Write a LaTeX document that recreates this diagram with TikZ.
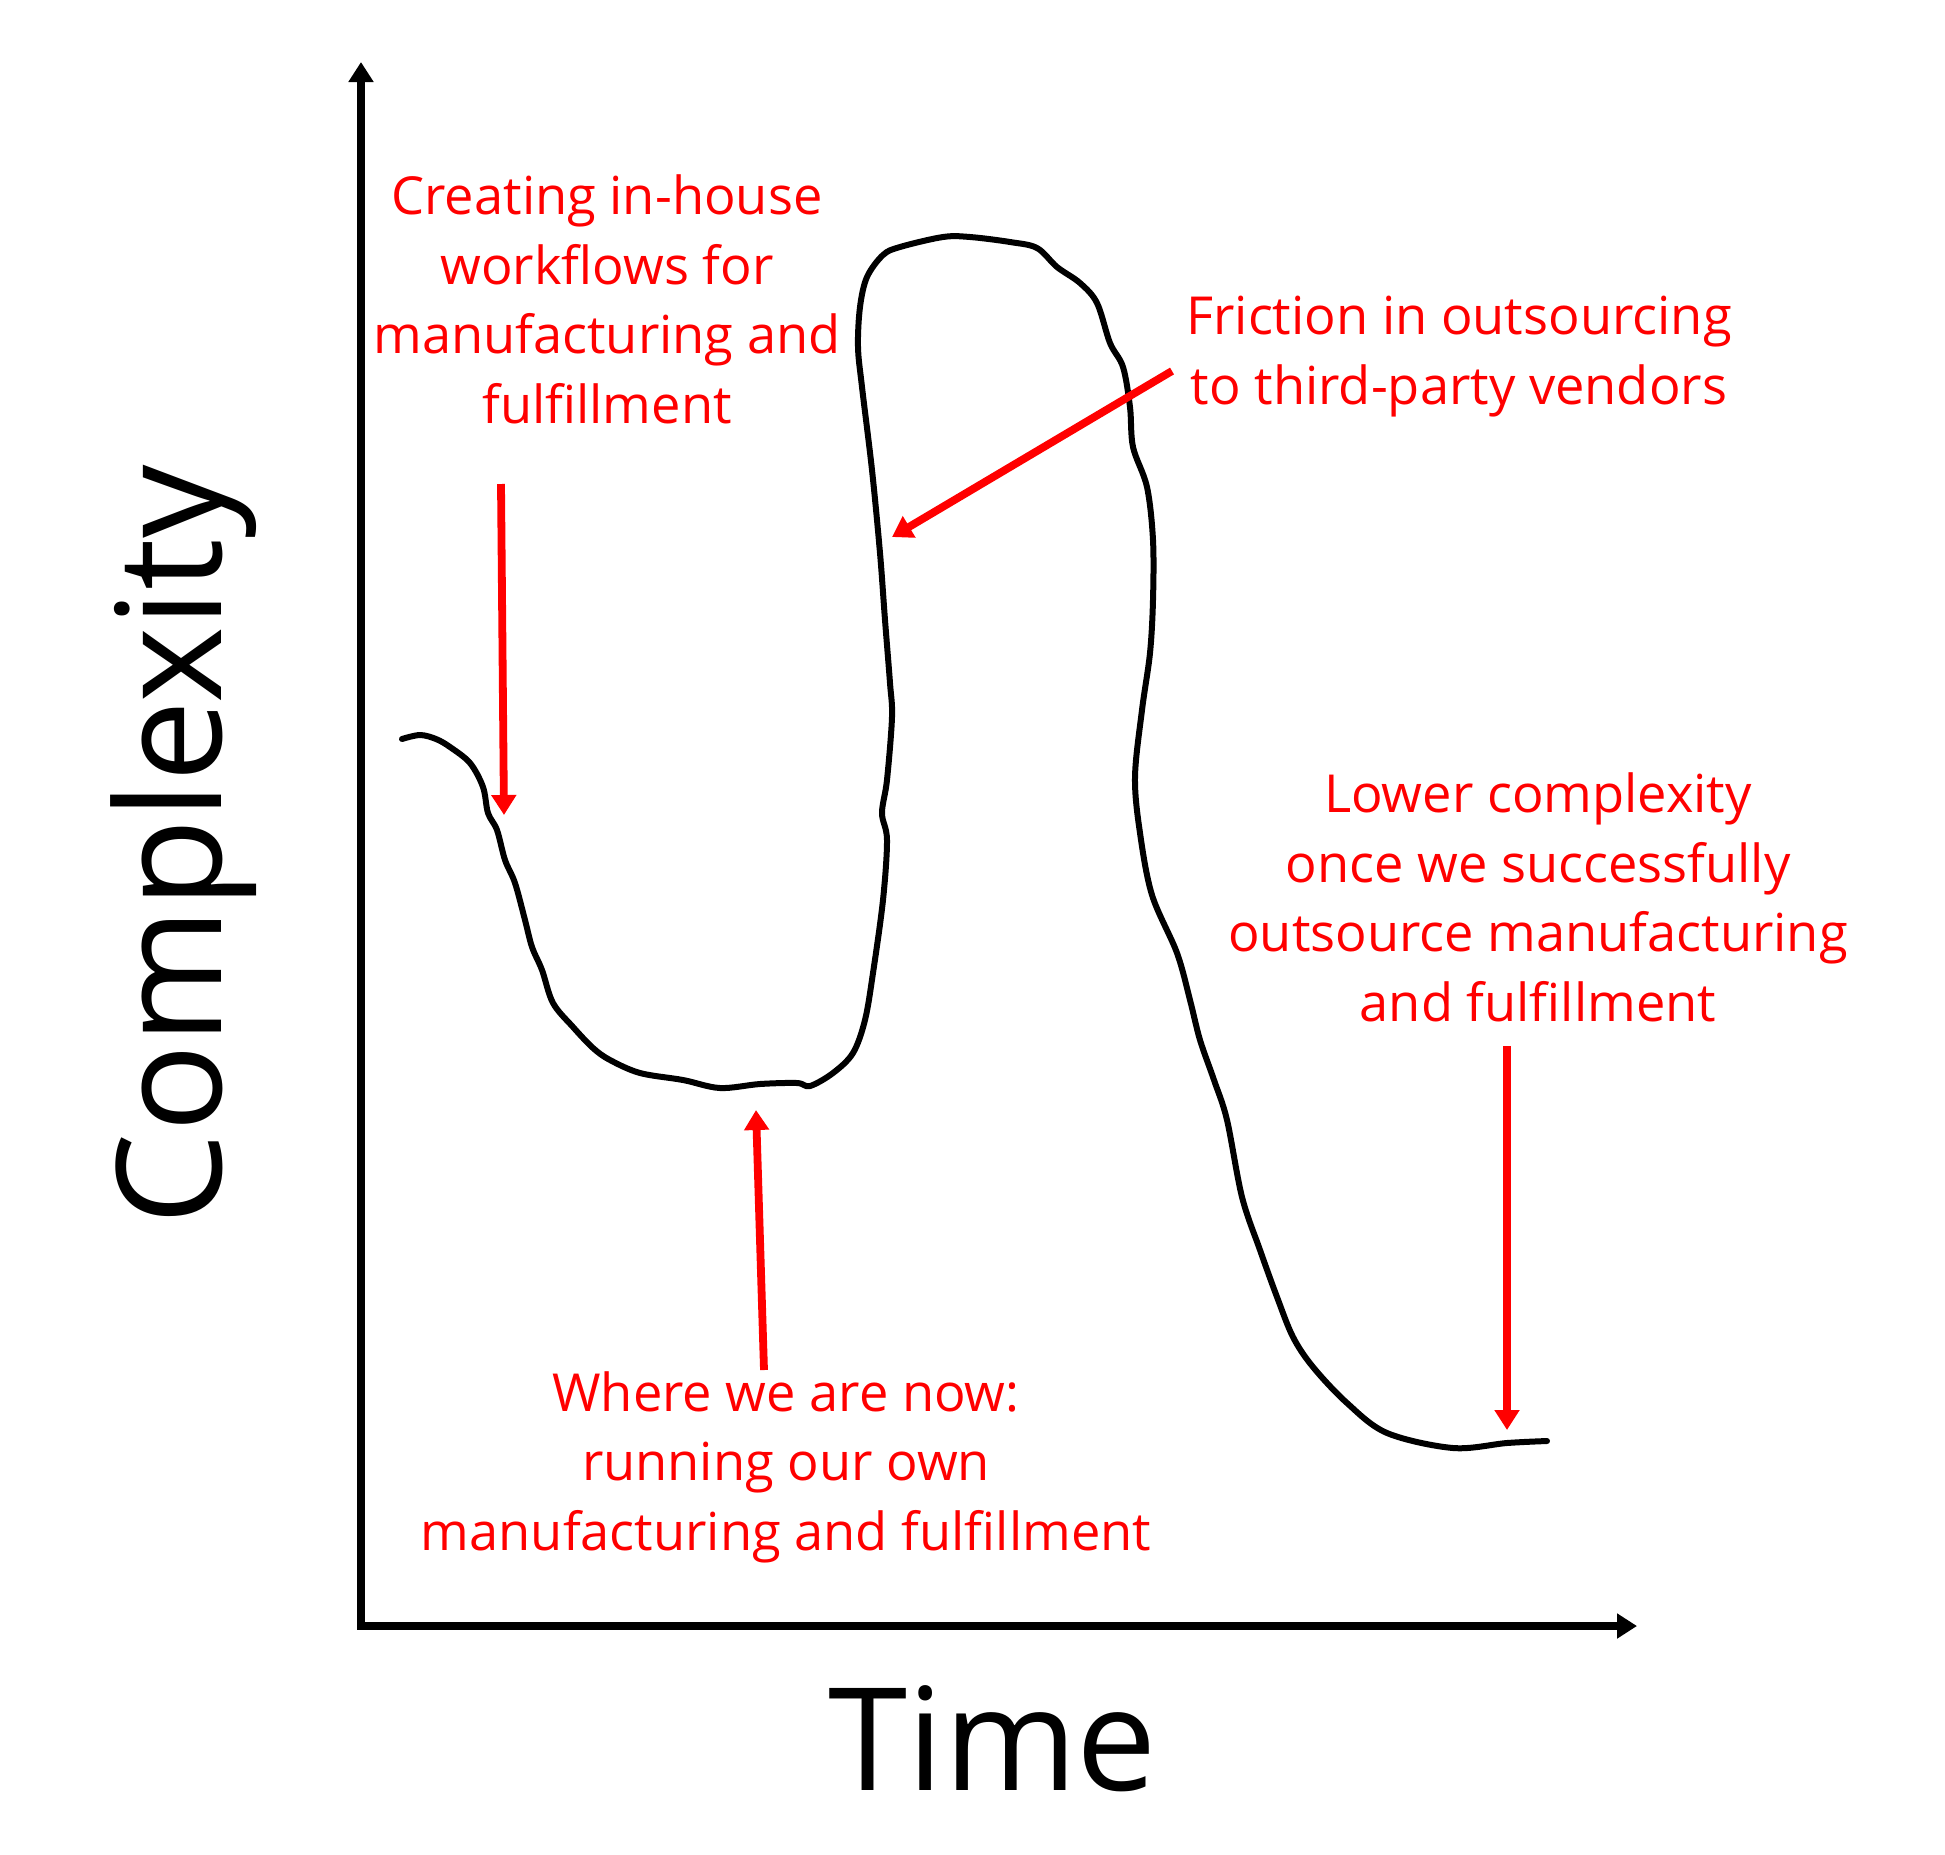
\documentclass[tikz,border=0pt]{standalone}
\usepackage{fontspec}
\setmainfont{Open Sans}
\usetikzlibrary{arrows.meta}

\begin{document}
\begin{tikzpicture}[x=0.5pt,y=-0.5pt,
		tip/.style={-{Triangle[length=10pt,width=12pt]}},
		axis/.style={line width=3.75pt, {Triangle[length=10pt,width=12pt]}-{Triangle[length=10pt,width=12pt]}},
		pointer/.style={red, line width=3.9pt, tip},
		curve/.style={line width=3pt, line cap=round, line join=round},
		note/.style={red, align=center, anchor=base, inner sep=0pt, font=\fontsize{26.2}{34.75}\selectfont},
		axislabel/.style={anchor=base, inner sep=0pt, font=\fontsize{72}{86}\selectfont}]
	\useasboundingbox (0,0) rectangle (1945,1854);
	\coordinate (origin) at (361,1626);
	\coordinate (ytip) at (361,62);
	\coordinate (xtip) at (1637,1626);
	\draw[axis] (ytip) -- (origin) -- (xtip);
	\node[axislabel, rotate=90, font=\fontsize{73}{86}\selectfont] (ylabel) at (221,845) {Complexity};
	\node[axislabel, font=\fontsize{71.5}{86}\selectfont] (xlabel) at (993,1790) {Time};
	\draw[curve] plot[smooth, tension=0.55] coordinates {
		(402,739) (420,735) (436,739) (450,747) (470,763) (483,787) (488,813) (497,830)
		(505,860) (515,883) (525,920) (532,947) (542,970) (553,1003) (573,1027) (593,1048)
		(610,1060) (640,1073) (683,1080) (720,1088) (760,1084) (797,1083) (810,1086) (833,1073)
		(853,1053) (865,1020) (873,973) (883,900) (887,840) (882,813) (887,780) (892,717)
		(890,683) (885,620) (880,553) (872,470) (862,387) (858,347) (860,307) (867,277)
		(883,255) (900,247) (943,237) (970,237) (1010,242) (1037,248) (1057,267) (1080,283)
		(1097,303) (1110,343) (1123,367) (1130,407) (1133,447) (1147,487) (1153,540) (1153,600)
		(1150,653) (1142,710) (1135,777) (1140,833) (1152,895) (1177,953) (1190,1000) (1200,1040)
		(1214,1080) (1227,1120) (1242,1197) (1260,1250) (1277,1297) (1293,1337) (1313,1367) (1347,1403)
		(1387,1433) (1453,1448) (1507,1443) (1547,1441)};
	\node[note] (inhouse) at (607,423) {Creating in-house\\workflows for\\manufacturing and\\fulfillment};
	\node[note] (friction) at (1459,404) {Friction in outsourcing\\to third-party vendors};
	\node[note] (lower) at (1538,1021) {Lower complexity\\once we successfully\\outsource manufacturing\\and fulfillment};
	\node[note] (now) at (786,1550) {Where we are now:\\running our own\\manufacturing and fulfillment};
	\coordinate (inhouse-from) at (501,484);
	\coordinate (inhouse-to) at (504,815);
	\coordinate (friction-from) at (1172,371);
	\coordinate (friction-to) at (892,537);
	\coordinate (now-from) at (764,1370);
	\coordinate (now-to) at (756,1110);
	\coordinate (lower-from) at (1507,1046);
	\coordinate (lower-to) at (1507,1430);
	\draw[pointer] (inhouse-from) -- (inhouse-to);
	\draw[pointer] (friction-from) -- (friction-to);
	\draw[pointer] (now-from) -- (now-to);
	\draw[pointer] (lower-from) -- (lower-to);
\end{tikzpicture}
\end{document}
